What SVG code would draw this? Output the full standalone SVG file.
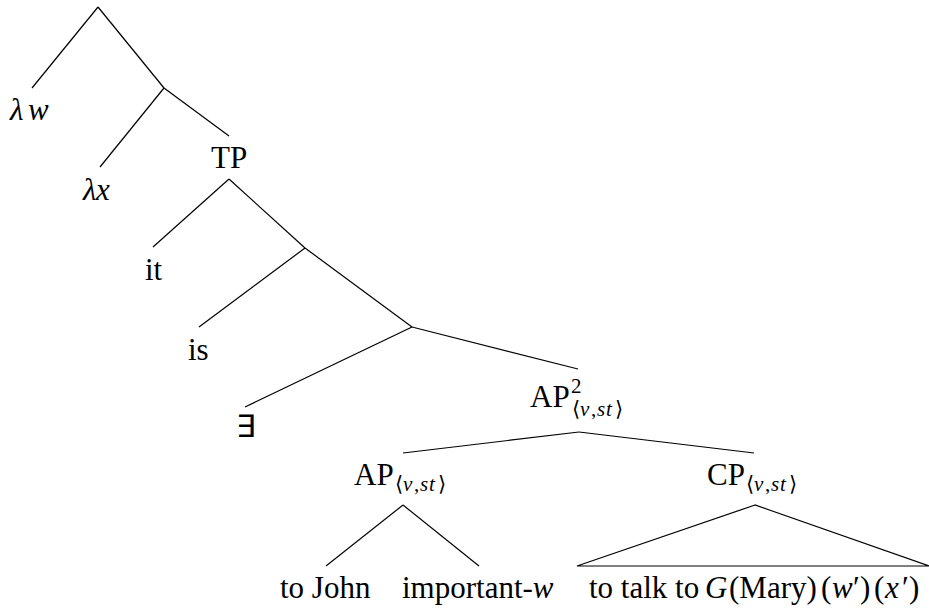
<svg xmlns="http://www.w3.org/2000/svg" width="929" height="608" viewBox="0 0 929 608">
<style>
text{font-family:'Liberation Serif','Times New Roman',Times,serif;font-size:31px;fill:#000}
.i{font-style:italic}
.s{font-size:21px}
.e{stroke:#000;stroke-width:1.2;fill:none}
</style>
<rect width="929" height="608" fill="#fff"/>
<g id="edges">
<line class="e" x1="98" y1="7" x2="32" y2="88"/>
<line class="e" x1="98" y1="7" x2="164" y2="88"/>
<line class="e" x1="164" y1="88" x2="100" y2="167"/>
<line class="e" x1="164" y1="88" x2="229" y2="136"/>
<line class="e" x1="229" y1="179" x2="153" y2="247"/>
<line class="e" x1="229" y1="179" x2="305" y2="248"/>
<line class="e" x1="305" y1="248" x2="199" y2="327"/>
<line class="e" x1="305" y1="248" x2="412" y2="327"/>
<line class="e" x1="412" y1="327" x2="245" y2="407"/>
<line class="e" x1="412" y1="327" x2="578" y2="369"/>
<line class="e" x1="579" y1="432" x2="403" y2="453"/>
<line class="e" x1="579" y1="432" x2="754" y2="453"/>
<line class="e" x1="403" y1="505" x2="326" y2="566"/>
<line class="e" x1="403" y1="505" x2="479" y2="566"/>
<polygon class="e" points="755,505 577,566 929,566"/>
</g>
<g id="labels" font-family="Liberation Serif, Times New Roman, serif">
<g id="n-lw"><text font-family="Liberation Serif, serif" class="i" y="120"><tspan x="10">λ</tspan><tspan x="28">w</tspan></text></g>
<g id="n-lx"><text font-family="Liberation Serif, serif" class="i" y="200"><tspan x="83">λ</tspan><tspan x="96">x</tspan></text></g>
<g id="n-TP"><text font-family="Liberation Serif, serif" x="211" y="168">TP</text></g>
<g id="n-it"><text font-family="Liberation Serif, serif" x="145" y="280">it</text></g>
<g id="n-is"><text font-family="Liberation Serif, serif" x="188" y="360">is</text></g>
<g id="n-ex"><text font-family="Liberation Serif, DejaVu Serif, serif" x="236" y="437">∃</text></g>
<g id="n-AP2"><text font-family="Liberation Serif, serif" x="530" y="407">AP</text>
<text font-family="Liberation Serif, serif" class="s" x="571" y="393">2</text>
<text font-family="Liberation Serif, DejaVu Serif, serif" class="s" y="416"><tspan x="572">⟨</tspan><tspan x="580" class="i">v</tspan><tspan x="591">,</tspan><tspan x="597" class="i">s</tspan><tspan x="606" class="i">t</tspan><tspan x="615">⟩</tspan></text></g>
<g id="n-AP"><text font-family="Liberation Serif, serif" x="354" y="485">AP</text>
<text font-family="Liberation Serif, DejaVu Serif, serif" class="s" y="491"><tspan x="395">⟨</tspan><tspan x="403" class="i">v</tspan><tspan x="414">,</tspan><tspan x="420" class="i">s</tspan><tspan x="429" class="i">t</tspan><tspan x="438">⟩</tspan></text></g>
<g id="n-CP"><text font-family="Liberation Serif, serif" x="707" y="485">CP</text>
<text font-family="Liberation Serif, DejaVu Serif, serif" class="s" y="491"><tspan x="746">⟨</tspan><tspan x="754" class="i">v</tspan><tspan x="765">,</tspan><tspan x="771" class="i">s</tspan><tspan x="780" class="i">t</tspan><tspan x="789">⟩</tspan></text></g>
<g id="n-toJohn"><text font-family="Liberation Serif, serif" x="280" y="598">to John</text></g>
<g id="n-important"><text font-family="Liberation Serif, serif" x="402" y="598">important-<tspan class="i">w</tspan></text></g>
<g id="n-talk"><text font-family="Liberation Serif, serif" y="598"><tspan x="589">to talk to </tspan><tspan x="705" class="i">G</tspan><tspan x="729">(Mary)</tspan><tspan x="821">(</tspan><tspan x="832" class="i">w</tspan><tspan x="853">′</tspan><tspan x="860">)</tspan><tspan x="874">(</tspan><tspan x="885" class="i">x</tspan><tspan x="902">′</tspan><tspan x="909">)</tspan></text></g>
</g>
</svg>
